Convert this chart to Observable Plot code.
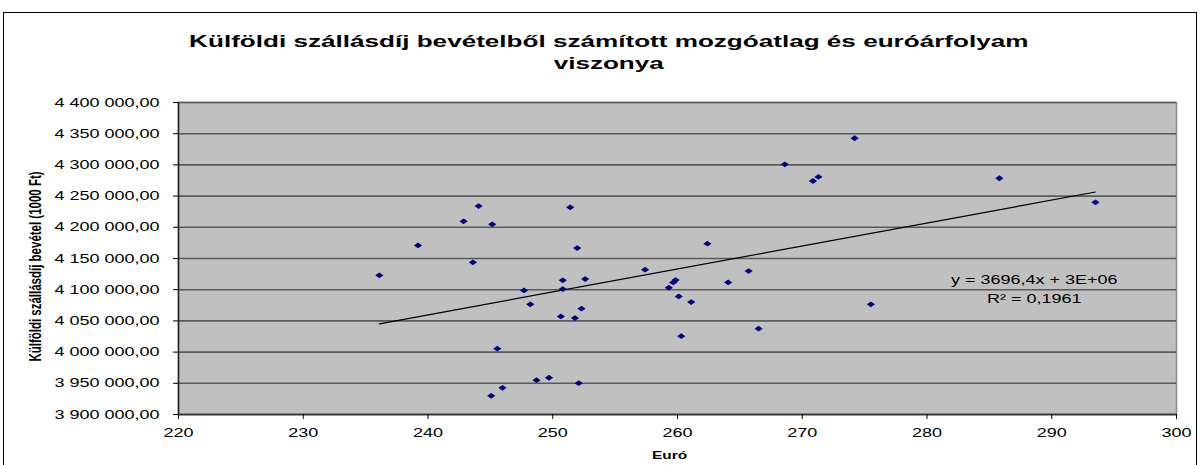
<!DOCTYPE html>
<html>
<head>
<meta charset="utf-8">
<script src="https://cdn.jsdelivr.net/npm/d3@7"></script>
<script src="https://cdn.jsdelivr.net/npm/@observablehq/plot@0.6"></script>
<style>
  html, body { margin: 0; padding: 0; background: #fff; }
  #wrap { position: relative; width: 1200px; height: 465px; overflow: hidden; background: #fff; font-family: "Liberation Sans", Arial, sans-serif; }
  #border { position: absolute; left: 3px; top: 12px; width: 1194px; height: 600px; border: 1.5px solid #000; box-sizing: border-box; }
  #title { position: absolute; left: 9px; top: 30px; width: 1200px; text-align: center; font-weight: bold; font-size: 17.4px; line-height: 22px; color: #000; }
  #title span { display: inline-block; transform: scaleX(1.5); white-space: nowrap; }
  #chart { position: absolute; left: 0; top: 80px; }
</style>
</head>
<body>
<div id="wrap">
  <div id="border"></div>
  <div id="title"></div>
  <div id="chart"></div>
</div>
<script>
const titleLines = ["Külföldi szállásdíj bevételből számított mozgóatlag és euróárfolyam", "viszonya"];
const xLabel = "Euró";
const yLabel = "Külföldi szállásdíj bevétel (1000 Ft)";
const equationLines = ["y = 3696,4x + 3E+06", "R² = 0,1961"];

const xTicks = [220, 230, 240, 250, 260, 270, 280, 290, 300];
const yTicks = [3900000, 3950000, 4000000, 4050000, 4100000, 4150000, 4200000, 4250000, 4300000, 4350000, 4400000];

const euro = [236.1, 239.2, 242.85, 244.06, 245.15, 243.6, 245.55, 245.97, 245.07, 248.7,
  249.7, 252.08, 247.7, 248.2, 250.65, 250.8, 250.8, 251.4, 251.96, 251.78,
  252.3, 252.6, 257.4, 259.3, 259.66, 259.85, 260.1, 261.1, 260.3, 262.4,
  264.06, 265.7, 266.5, 268.6, 270.86, 271.3, 274.2, 275.5, 285.8, 293.5];
const revenue = [4123000, 4171000, 4209600, 4234000, 4204800, 4143800, 4005400, 3942800, 3930000, 3955000,
  3958900, 3950200, 4098900, 4076500, 4057200, 4115000, 4101000, 4232000, 4166800, 4054500,
  4069600, 4117000, 4132100, 4103200, 4111700, 4115400, 4089300, 4080200, 4025600, 4173800,
  4111700, 4129900, 4037500, 4301000, 4274200, 4280700, 4342700, 4076500, 4278600, 4240100];

const data = euro.map((x, i) => ({x, y: revenue[i]}));
const fmt = d3.formatLocale({decimal: ",", thousands: " ", grouping: [3], currency: ["", ""]}).format(",.2f");

const titleEl = document.getElementById("title");
titleLines.forEach(t => {
  const d = document.createElement("div");
  const s = document.createElement("span");
  s.textContent = t;
  d.appendChild(s);
  titleEl.appendChild(d);
});

const S = 1.43;
const chart = Plot.plot({
  width: 1200, height: 385,
  marginTop: 22, marginBottom: 51, marginLeft: 178, marginRight: 24,
  style: {fontFamily: "'Liberation Sans', Arial, sans-serif", fontSize: "12.6px", color: "#000", background: "transparent"},
  x: {domain: [220, 300]},
  y: {domain: [3900000, 4400000]},
  marks: [
    Plot.frame({fill: "#C0C0C0", stroke: "#8a8a8a", strokeWidth: 1.5}),
    Plot.ruleY(yTicks, {stroke: "#5a5a5a", strokeWidth: 1.6}),
    Plot.ruleX([220], {stroke: "#222", strokeWidth: 1.5}),
    Plot.ruleY([3900000], {stroke: "#333", strokeWidth: 1.5}),
    Plot.axisY({ticks: yTicks, tickFormat: fmt, tickSize: 5, tickPadding: 14, label: null}),
    Plot.axisX({ticks: xTicks, tickFormat: d => String(d), tickSize: 5, tickPadding: 9, label: null}),
    Plot.linearRegressionY(data, {x: "x", y: "y", stroke: "#000", strokeWidth: 1.2, ci: 0}),
    Plot.dot(data, {x: "x", y: "y", symbol: "diamond2", r: 2.6, fill: "#000080", stroke: "none"}),
    Plot.text([{x: 288.6, y: 4102900, t: equationLines.join("\n")}], {x: "x", y: "y", text: "t", lineHeight: 1.5, fontSize: 12.6}),
    Plot.text([yLabel], {frameAnchor: "left", textAnchor: "middle", dx: -143, dy: 8, rotate: -90, fontWeight: "bold", fontSize: 11.5}),
    Plot.text([xLabel], {frameAnchor: "bottom", dx: -8, dy: 44, fontWeight: "bold", fontSize: 10.8})
  ]
});

chart.querySelectorAll("text").forEach(t => {
  const tr = t.getAttribute("transform") || "";
  t.setAttribute("transform", (tr + (/rotate/.test(tr) ? ` scale(1,${S})` : ` scale(${S},1)`)).trim());
});
chart.querySelectorAll('g[aria-label="dot"] path').forEach(p => {
  const tr = p.getAttribute("transform") || "";
  p.setAttribute("transform", `${tr} scale(${S},1)`.trim());
});

document.getElementById("chart").appendChild(chart);
</script>
</body>
</html>
